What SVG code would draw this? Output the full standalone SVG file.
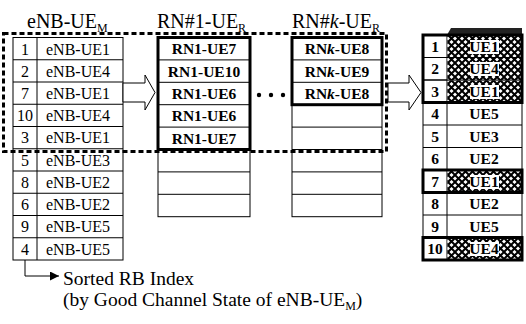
<svg xmlns="http://www.w3.org/2000/svg" width="526" height="324" viewBox="0 0 526 324" font-family="'Liberation Serif','DejaVu Serif','Times New Roman',serif">
<style>
text{font-family:"Liberation Serif","DejaVu Serif","Times New Roman",serif;fill:#000}
.title{font-size:20px}
.sub{font-size:12px}
.cell{font-size:15.5px;text-anchor:middle}
.lc{font-size:16px;text-anchor:middle}
.b{font-weight:bold}
.thin{fill:#fff;stroke:#000;stroke-width:1}
.thick{fill:none;stroke:#000;stroke-width:3}
.ln{stroke:#000;stroke-width:1;fill:none}
.dash{fill:none;stroke:#000;stroke-width:3;stroke-dasharray:5 3}
.blk{fill:#fff;stroke:#000;stroke-width:1}
</style>
<defs>
<pattern id="hatch" width="7" height="7" patternUnits="userSpaceOnUse">
<rect width="7" height="7" fill="#fff"/>
<path d="M-1,-1 L8,8 M8,-1 L-1,8" stroke="#000" stroke-width="2"/>
</pattern>
<marker id="ah" viewBox="0 0 10 10" refX="10" refY="5" markerWidth="12" markerHeight="9" markerUnits="userSpaceOnUse" orient="auto">
<path d="M0,0 L10,5 L0,10 z" fill="#000"/>
</marker>
</defs>

<g id="title-enb"><text class="title" x="27" y="28">eNB-UE<tspan class="sub" dy="4">M</tspan></text></g>
<g id="title-rn1"><text class="title" x="157" y="28">RN#1-UE<tspan class="sub" dy="4">R</tspan></text></g>
<g id="title-rnk"><text class="title" x="292" y="28">RN#<tspan font-style="italic">k</tspan>-UE<tspan class="sub" dy="4">R</tspan></text></g>

<g id="table-enb">
<rect class="thin" x="13" y="37.5" width="110" height="222.5"/>
<line class="ln" x1="37" y1="37.5" x2="37" y2="260" stroke-width="1.5"/>
<path class="ln" d="M13,59.75H123M13,82H123M13,104.25H123M13,126.5H123M13,148.75H123M13,171H123M13,193.25H123M13,215.5H123M13,237.75H123"/>
<g class="lc">
<text x="25" y="54.5">1</text><text x="78" y="54.5">eNB-UE1</text>
<text x="25" y="76.5">2</text><text x="78" y="76.5">eNB-UE4</text>
<text x="25" y="98.5">7</text><text x="78" y="98.5">eNB-UE1</text>
<text x="25" y="121">10</text><text x="78" y="121">eNB-UE4</text>
<text x="25" y="143">3</text><text x="78" y="143">eNB-UE1</text>
<text x="25" y="165.5">5</text><text x="78" y="165.5">eNB-UE3</text>
<text x="25" y="187.5">8</text><text x="78" y="187.5">eNB-UE2</text>
<text x="25" y="210">6</text><text x="78" y="210">eNB-UE2</text>
<text x="25" y="232">9</text><text x="78" y="232">eNB-UE5</text>
<text x="25" y="254.5">4</text><text x="78" y="254.5">eNB-UE5</text>
</g>
</g>

<g id="table-rn1">
<rect class="thin" x="158" y="37.5" width="92" height="179.2"/>
<path class="ln" d="M158,171.9H250M158,194.3H250"/>
<rect class="thick" x="158" y="37.5" width="92" height="112"/>
<path class="ln" stroke-width="2.5" d="M158,59.9H250M158,82.3H250M158,104.7H250M158,127.1H250"/>
<g class="cell b">
<text x="204" y="54">RN1-UE7</text>
<text x="204" y="76.5">RN1-UE10</text>
<text x="204" y="99">RN1-UE6</text>
<text x="204" y="121">RN1-UE6</text>
<text x="204" y="144">RN1-UE7</text>
</g>
</g>

<g id="ellipsis">
<circle cx="259" cy="95" r="2.2"/><circle cx="271" cy="95" r="2.2"/><circle cx="283" cy="95" r="2.2"/>
</g>

<g id="table-rnk">
<rect class="thin" x="292" y="37.5" width="90" height="179.2"/>
<path class="ln" d="M292,127.1H382M292,149.5H382M292,171.9H382M292,194.3H382"/>
<rect class="thick" x="292" y="37.5" width="90" height="67.2"/>
<path class="ln" stroke-width="2.5" d="M292,59.9H382M292,82.3H382"/>
<g class="cell b">
<text x="337" y="54">RN<tspan font-style="italic">k</tspan>-UE8</text>
<text x="337" y="76.5">RN<tspan font-style="italic">k</tspan>-UE9</text>
<text x="337" y="99">RN<tspan font-style="italic">k</tspan>-UE8</text>
</g>
</g>

<g id="selection-box">
<rect class="dash" x="3.5" y="33.5" width="383" height="118"/>
</g>

<g id="table-result">
<polygon points="451,28 522,28 522,35 447,35" fill="#222"/>
<rect class="thin" x="423" y="35" width="99" height="225"/>
<line class="ln" x1="447" y1="35" x2="447" y2="260" stroke-width="1.5"/>
<path class="ln" d="M423,57.5H522M423,80H522M423,102.5H522M423,125H522M423,147.5H522M423,170H522M423,192.5H522M423,215H522M423,237.5H522"/>
<rect x="447.5" y="35.5" width="74" height="22" fill="url(#hatch)"/>
<rect x="447.5" y="58" width="74" height="22" fill="url(#hatch)"/>
<rect x="447.5" y="80.5" width="74" height="22" fill="url(#hatch)"/>
<rect x="447.5" y="170.5" width="74" height="22" fill="url(#hatch)"/>
<rect x="447.5" y="238" width="74" height="22" fill="url(#hatch)"/>
<g fill="#fff">
<rect x="470" y="40" width="29" height="14"/>
<rect x="470" y="62" width="29" height="14"/>
<rect x="470" y="85" width="29" height="14"/>
<rect x="470" y="175" width="29" height="14"/>
<rect x="470" y="242" width="29" height="14"/>
</g>
<rect class="thick" x="423" y="35" width="99" height="67.5"/>
<rect class="thick" x="423" y="170" width="99" height="22.5"/>
<rect class="thick" x="423" y="237.5" width="99" height="22.5"/>
<path class="ln" stroke-width="2" d="M423,57.5H522M423,80H522"/>
<g class="cell b">
<text x="435" y="52">1</text><text x="484" y="52">UE1</text>
<text x="435" y="74">2</text><text x="484" y="74">UE4</text>
<text x="435" y="97">3</text><text x="484" y="97">UE1</text>
<text x="435" y="119">4</text><text x="484" y="119">UE5</text>
<text x="435" y="142">5</text><text x="484" y="142">UE3</text>
<text x="435" y="164">6</text><text x="484" y="164">UE2</text>
<text x="435" y="187">7</text><text x="484" y="187">UE1</text>
<text x="435" y="209">8</text><text x="484" y="209">UE2</text>
<text x="435" y="232">9</text><text x="484" y="232">UE5</text>
<text x="435" y="254">10</text><text x="484" y="254">UE4</text>
</g>
</g>

<g id="connectors">
<polygon class="blk" points="123,83 145,83 145,75 155,92.5 145,110 145,102 123,102"/>
<polygon class="blk" points="388,83 409,83 409,75 421,92.5 409,110 409,102 388,102"/>
<path class="ln" d="M25,260 V276 H59" marker-end="url(#ah)"/>
</g>

<g id="legend">
<text font-size="19.5" x="63" y="285">Sorted RB Index</text>
<text font-size="19.5" x="63" y="306">(by Good Channel State of eNB-UE<tspan font-size="12" dy="4">M</tspan><tspan dy="-4">)</tspan></text>
</g>
</svg>
